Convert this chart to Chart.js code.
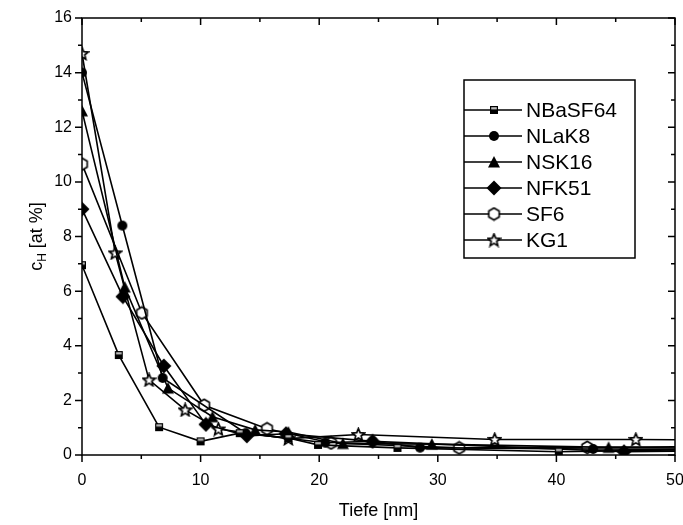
<!DOCTYPE html>
<html>
<head>
<meta charset="utf-8">
<script src="https://cdn.jsdelivr.net/npm/chart.js@4"></script>
<style>
html, body { margin: 0; padding: 0; background: #fff; }
#wrap { width: 683px; height: 525px; }
</style>
</head>
<body>
<div id="wrap"><canvas id="depthChart" width="683" height="525"></canvas></div>
<script>
// Hydrogen concentration vs. depth for six glass types
const seriesNames = ['NBaSF64', 'NLaK8', 'NSK16', 'NFK51', 'SF6', 'KG1'];

const depthNBaSF64 = [0, 3.1, 6.5, 10.0, 13.3, 17.4, 19.9, 26.6, 40.2, 52];
const cNBaSF64     = [6.95, 3.66, 1.02, 0.5, 0.8, 0.62, 0.37, 0.26, 0.12, 0.2];

const depthNLaK8 = [0, 3.4, 6.8, 13.8, 20.5, 24.5, 28.5, 43.1, 52];
const cNLaK8     = [14.0, 8.4, 2.82, 0.8, 0.45, 0.5, 0.27, 0.22, 0.2];

const depthNSK16 = [0, 3.6, 7.25, 11.0, 14.6, 17.4, 22.0, 29.5, 44.4, 52];
const cNSK16     = [12.6, 6.15, 2.45, 1.4, 0.92, 0.84, 0.42, 0.4, 0.28, 0.25];

const depthNFK51 = [0, 3.45, 6.9, 10.45, 13.9, 17.2, 24.5, 45.7, 52];
const cNFK51     = [9.0, 5.8, 3.26, 1.12, 0.7, 0.78, 0.5, 0.12, 0.15];

const depthSF6 = [0, 5.05, 10.3, 15.6, 21.0, 31.8, 42.6, 52];
const cSF6     = [10.65, 5.2, 1.82, 0.96, 0.44, 0.26, 0.28, 0.3];

const depthKG1 = [0, 2.8, 5.65, 8.7, 11.5, 17.4, 23.3, 34.8, 46.7, 52];
const cKG1     = [14.7, 7.4, 2.75, 1.65, 0.95, 0.6, 0.75, 0.57, 0.57, 0.55];

const xTicks = [0, 10, 20, 30, 40, 50];
const yTicks = [0, 2, 4, 6, 8, 10, 12, 14, 16];

function toPoints(xs, ys) {
    return xs.map((x, i) => ({ x: x, y: ys[i] }));
}

// small offscreen canvases used as point styles
function makeMarker(size, drawFn) {
    const c = document.createElement('canvas');
    c.width = size;
    c.height = size;
    const g = c.getContext('2d');
    drawFn(g, size / 2);
    return c;
}

const markerSquare = makeMarker(10, (g, m) => {
    g.fillStyle = '#000';
    g.fillRect(1, 1, 8, 8);
    g.fillStyle = '#bbb';
    g.fillRect(2.2, 2.2, 5.6, 2.2);
});

const markerCircle = makeMarker(12, (g, m) => {
    g.fillStyle = '#000';
    g.beginPath();
    g.arc(m, m, 5, 0, Math.PI * 2);
    g.fill();
});

const markerTriangle = makeMarker(14, (g, m) => {
    g.fillStyle = '#000';
    g.beginPath();
    g.moveTo(m, 1);
    g.lineTo(13, 12.5);
    g.lineTo(1, 12.5);
    g.closePath();
    g.fill();
});

const markerDiamond = makeMarker(16, (g, m) => {
    g.fillStyle = '#000';
    g.beginPath();
    g.moveTo(m, 0.5);
    g.lineTo(15.5, m);
    g.lineTo(m, 15.5);
    g.lineTo(0.5, m);
    g.closePath();
    g.fill();
});

const markerHexagon = makeMarker(15, (g, m) => {
    g.fillStyle = '#fff';
    g.strokeStyle = '#000';
    g.lineWidth = 1.6;
    g.beginPath();
    for (let i = 0; i < 6; i++) {
        const a = Math.PI / 2 + i * Math.PI / 3;
        const px = m + 6 * Math.cos(a);
        const py = m + 6 * Math.sin(a);
        if (i === 0) g.moveTo(px, py); else g.lineTo(px, py);
    }
    g.closePath();
    g.fill();
    g.stroke();
});

const markerStar = makeMarker(15, (g, m) => {
    g.fillStyle = '#fff';
    g.strokeStyle = '#000';
    g.lineWidth = 1.7;
    g.lineJoin = 'miter';
    g.beginPath();
    for (let i = 0; i < 10; i++) {
        const r = i % 2 === 0 ? 6.5 : 2.9;
        const a = -Math.PI / 2 + i * Math.PI / 5;
        const px = m + r * Math.cos(a);
        const py = m + 0.5 + r * Math.sin(a);
        if (i === 0) g.moveTo(px, py); else g.lineTo(px, py);
    }
    g.closePath();
    g.fill();
    g.stroke();
});

const seriesPoints = [
    toPoints(depthNBaSF64, cNBaSF64),
    toPoints(depthNLaK8, cNLaK8),
    toPoints(depthNSK16, cNSK16),
    toPoints(depthNFK51, cNFK51),
    toPoints(depthSF6, cSF6),
    toPoints(depthKG1, cKG1)
];
const seriesMarkers = [markerSquare, markerCircle, markerTriangle, markerDiamond, markerHexagon, markerStar];

const datasets = seriesNames.map((name, i) => ({
    label: name,
    data: seriesPoints[i],
    borderColor: '#000',
    borderWidth: 1.6,
    backgroundColor: '#000',
    pointStyle: seriesMarkers[i],
    pointRadius: 5,
    pointHoverRadius: 5,
    tension: 0,
    fill: false
}));

// frame, inward/outward ticks, axis titles and the boxed legend
const frameAndLegend = {
    id: 'frameAndLegend',
    afterDraw(chart) {
        const ctx = chart.ctx;
        const area = chart.chartArea;
        const xs = chart.scales.x;
        const ys = chart.scales.y;

        ctx.save();
        ctx.strokeStyle = '#000';
        ctx.lineWidth = 1.5;
        ctx.strokeRect(area.left, area.top, area.right - area.left, area.bottom - area.top);

        ctx.beginPath();
        for (let v = 0; v <= 50; v += 5) {
            const px = xs.getPixelForValue(v);
            const len = v % 10 === 0 ? 7 : 4;
            ctx.moveTo(px, area.bottom);
            ctx.lineTo(px, area.bottom + len);
            ctx.moveTo(px, area.top);
            ctx.lineTo(px, area.top + len);
        }
        for (let v = 0; v <= 16; v += 1) {
            const py = ys.getPixelForValue(v);
            const len = v % 2 === 0 ? 7 : 4;
            ctx.moveTo(area.left, py);
            ctx.lineTo(area.left - len, py);
            ctx.moveTo(area.right, py);
            ctx.lineTo(area.right - len, py);
        }
        ctx.stroke();

        // x title
        ctx.fillStyle = '#000';
        ctx.font = '18px "Liberation Sans", Arial, sans-serif';
        ctx.textAlign = 'center';
        ctx.textBaseline = 'middle';
        ctx.fillText('Tiefe [nm]', (area.left + area.right) / 2, 511);

        // y title with subscript
        ctx.translate(36, (area.top + area.bottom) / 2);
        ctx.rotate(-Math.PI / 2);
        ctx.textAlign = 'left';
        ctx.textBaseline = 'alphabetic';
        const big = '18px "Liberation Sans", Arial, sans-serif';
        const small = '12px "Liberation Sans", Arial, sans-serif';
        ctx.font = big;
        const wc = ctx.measureText('c').width;
        const wRest = ctx.measureText(' [at %]').width;
        ctx.font = small;
        const wh = ctx.measureText('H').width;
        let cx = -(wc + wh + wRest) / 2;
        ctx.font = big;
        ctx.fillText('c', cx, 6);
        cx += wc;
        ctx.font = small;
        ctx.fillText('H', cx, 10);
        cx += wh;
        ctx.font = big;
        ctx.fillText(' [at %]', cx, 6);
        ctx.restore();

        // legend box
        ctx.save();
        const boxL = 464, boxT = 80, boxR = 635, boxB = 258;
        ctx.fillStyle = '#fff';
        ctx.fillRect(boxL, boxT, boxR - boxL, boxB - boxT);
        ctx.strokeStyle = '#000';
        ctx.lineWidth = 1.5;
        ctx.strokeRect(boxL, boxT, boxR - boxL, boxB - boxT);
        ctx.font = '21px "Liberation Sans", Arial, sans-serif';
        ctx.textAlign = 'left';
        ctx.textBaseline = 'middle';
        ctx.fillStyle = '#000';
        chart.data.datasets.forEach((ds, i) => {
            const rowY = 110 + i * 26;
            ctx.beginPath();
            ctx.moveTo(boxL, rowY);
            ctx.lineTo(boxL + 58, rowY);
            ctx.stroke();
            const img = ds.pointStyle;
            ctx.drawImage(img, boxL + 30 - img.width / 2, rowY - img.height / 2);
            ctx.fillText(ds.label, boxL + 62, rowY + 1);
        });
        ctx.restore();
    }
};

const tickFont = { family: '"Liberation Sans", Arial, sans-serif', size: 16 };

new Chart(document.getElementById('depthChart'), {
    type: 'line',
    data: { datasets: datasets },
    options: {
        responsive: false,
        animation: false,
        devicePixelRatio: 1,
        layout: { padding: { left: 0, right: 8, top: 18, bottom: 0 } },
        plugins: {
            legend: { display: false },
            tooltip: { enabled: false }
        },
        scales: {
            x: {
                type: 'linear',
                min: 0,
                max: 50,
                afterFit: (scale) => {
                    scale.height = 70;
                    scale.paddingLeft = 0;
                    scale.paddingRight = 0;
                },
                afterBuildTicks: (scale) => { scale.ticks = xTicks.map(v => ({ value: v })); },
                grid: { display: false, drawTicks: false },
                border: { display: false },
                ticks: { color: '#000', font: tickFont, padding: 16, autoSkip: false, maxRotation: 0 }
            },
            y: {
                type: 'linear',
                min: 0,
                max: 16,
                afterFit: (scale) => {
                    scale.width = 82;
                    scale.paddingTop = 0;
                    scale.paddingBottom = 0;
                },
                afterBuildTicks: (scale) => { scale.ticks = yTicks.map(v => ({ value: v })); },
                grid: { display: false, drawTicks: false },
                border: { display: false },
                ticks: { color: '#000', font: tickFont, padding: 10, autoSkip: false }
            }
        }
    },
    plugins: [frameAndLegend]
});
</script>
</body>
</html>
